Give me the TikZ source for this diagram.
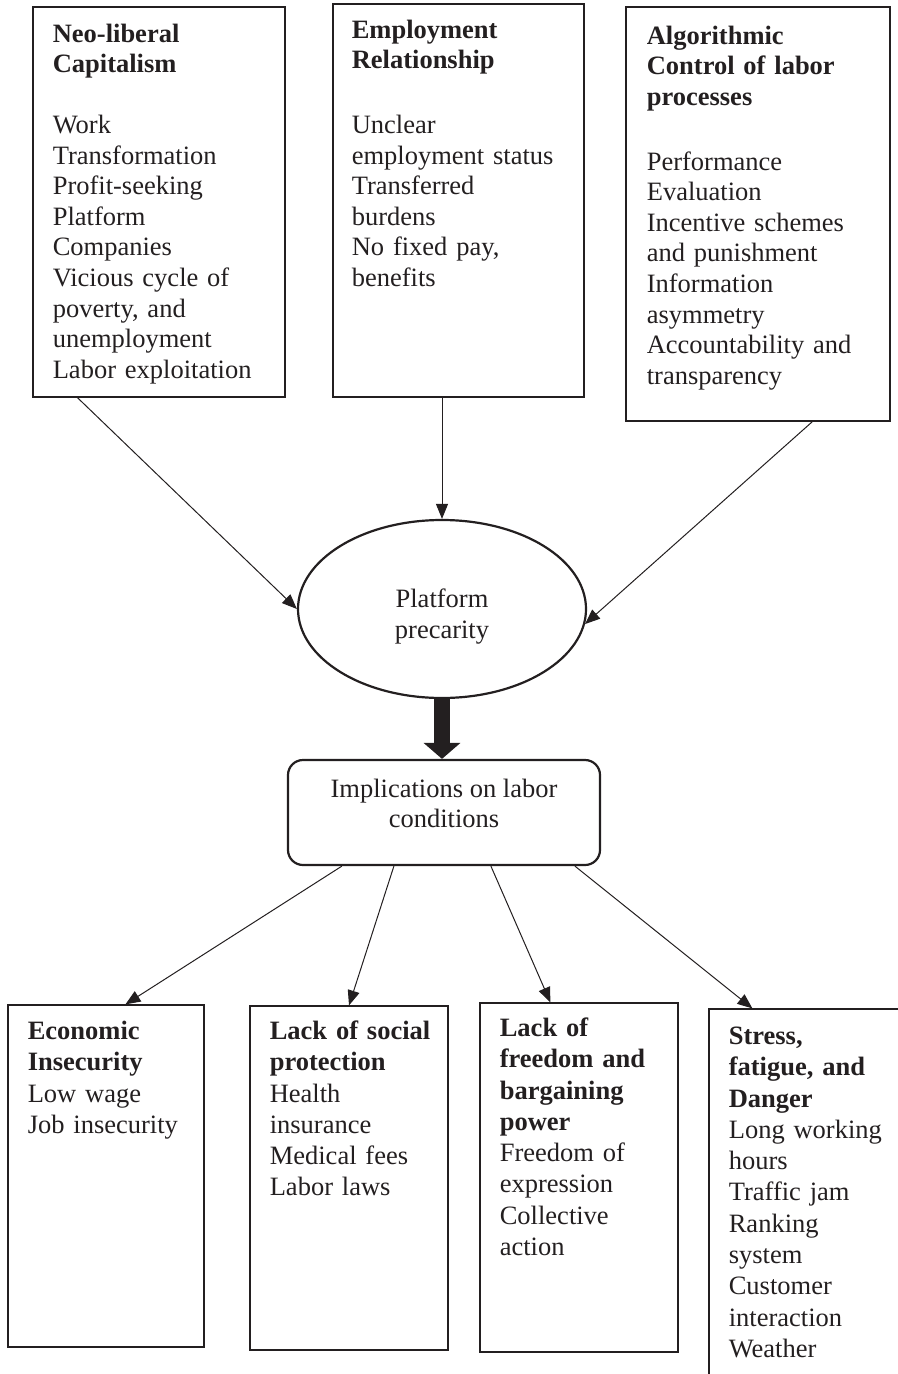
\documentclass[tikz,border=0pt]{standalone}
\usepackage{fontspec}
\setmainfont{Liberation Serif}
\usepackage{tikz}
\usetikzlibrary{positioning,arrows.meta,shapes.geometric,fit}
\definecolor{ink}{RGB}{35,31,32}
\newcommand{\bodyfont}{\fontsize{13.25}{15.3}\selectfont}
\newcommand{\lowfont}{\fontsize{13.25}{15.65}\selectfont}
\tikzset{
  frame/.style   = {draw=ink, line width=0.6pt, inner sep=0pt},
  txt/.style     = {anchor=base west, align=left, text width=120pt, inner sep=0pt, font=\bodyfont, text=ink},
  lowtxt/.style  = {txt, font=\lowfont},
  oval/.style    = {ellipse, draw=ink, line width=1.1pt, minimum width=144pt, minimum height=89pt, inner sep=0pt, align=center, font=\bodyfont, text=ink},
  rbox/.style    = {draw=ink, line width=1.1pt, rounded corners=7.5pt, inner sep=0pt, align=center, font=\bodyfont, text=ink},
  flow/.style    = {-{Triangle[length=7.5pt,width=6pt]}, line width=0.5pt, draw=ink},
  bigflow/.style = {-{Triangle[length=8pt,width=18pt]}, line width=8pt, draw=ink},
}
\begin{document}
\begin{tikzpicture}[x=0.5pt, y=-0.5pt]
  \useasboundingbox (0,0) rectangle (898,1374);

  % causes
  \node[frame, fit={(33,7)(285,397)}]  (neo) {};
  \node[frame, fit={(333,4)(584,397)}] (emp) {};
  \node[frame, fit={(626,7)(890,421)}] (alg) {};
  \node[txt] (neotxt) at ([shift={(20,36)}]neo.north west)
    {\textbf{Neo-liberal}\\ \textbf{Capitalism}\\[15pt] Work\\ Transformation\\ Profit-seeking\\ Platform\\ Companies\\ Vicious cycle of\\ poverty, and\\ unemployment\\ Labor exploitation};
  \node[txt] (emptxt) at ([shift={(19,35)}]emp.north west)
    {\textbf{Employment}\\ \textbf{Relationship}\\[17pt] Unclear\\ employment status\\ Transferred\\ burdens\\ No fixed pay,\\ benefits};
  \node[txt] (algtxt) at ([shift={(21,38)}]alg.north west)
    {\textbf{Algorithmic}\\ \textbf{Control of labor}\\ \textbf{processes}\\[17pt] Performance\\ Evaluation\\ Incentive schemes\\ and punishment\\ Information\\ asymmetry\\ Accountability and\\ transparency};

  % centre
  \node[oval] (prec) at (442,609) {\rule{0pt}{17pt}Platform\\ precarity};
  \node[rbox, fit={(288,760)(600,865)}] (impl) {Implications on labor\\ conditions};

  % effects
  \node[frame, fit={(8,1005)(204,1347)}]   (eco) {};
  \node[frame, fit={(250,1006)(448,1350)}] (soc) {};
  \node[frame, fit={(480,1003)(678,1352)}] (fre) {};
  \begin{scope}
    \clip (0,0) rectangle (898,1374);
    \node[frame, fit={(709,1009)(940,1420)}] (str) {};
  \end{scope}
  \node[lowtxt] (ecotxt) at ([shift={(20,35)}]eco.north west)
    {\textbf{Economic}\\ \textbf{Insecurity}\\ Low wage\\ Job insecurity};
  \node[lowtxt] (soctxt) at ([shift={(20,34)}]soc.north west)
    {\textbf{Lack of social}\\ \textbf{protection}\\ Health\\ insurance\\ Medical fees\\ Labor laws};
  \node[lowtxt] (fretxt) at ([shift={(20,34)}]fre.north west)
    {\textbf{Lack of}\\ \textbf{freedom and}\\ \textbf{bargaining}\\ \textbf{power}\\ Freedom of\\ expression\\ Collective\\ action};
  \node[lowtxt] (strtxt) at ([shift={(20,36)}]str.north west)
    {\textbf{Stress,}\\ \textbf{fatigue, and}\\ \textbf{Danger}\\ Long working\\ hours\\ Traffic jam\\ Ranking\\ system\\ Customer\\ interaction\\ Weather};

  % connectors
  \draw[flow] ([shift={(45,0)}]neo.south west) -- (prec.west);
  \draw[flow] (prec.north |- emp.south) -- (prec.north);
  \draw[flow] ([shift={(187,0)}]alg.south west) -- (prec.-6);
  \draw[bigflow] (prec.south) -- (prec.south |- impl.north);
  \draw[flow] ([shift={(55,0)}]impl.south west) -- ([shift={(118,0)}]eco.north west);
  \draw[flow] ([shift={(107,0)}]impl.south west) -- (soc.north);
  \draw[flow] ([shift={(204,0)}]impl.south west) -- ([shift={(71,0)}]fre.north west);
  \draw[flow] ([shift={(288,0)}]impl.south west) -- ([shift={(44,0)}]str.north west);
\end{tikzpicture}
\end{document}
